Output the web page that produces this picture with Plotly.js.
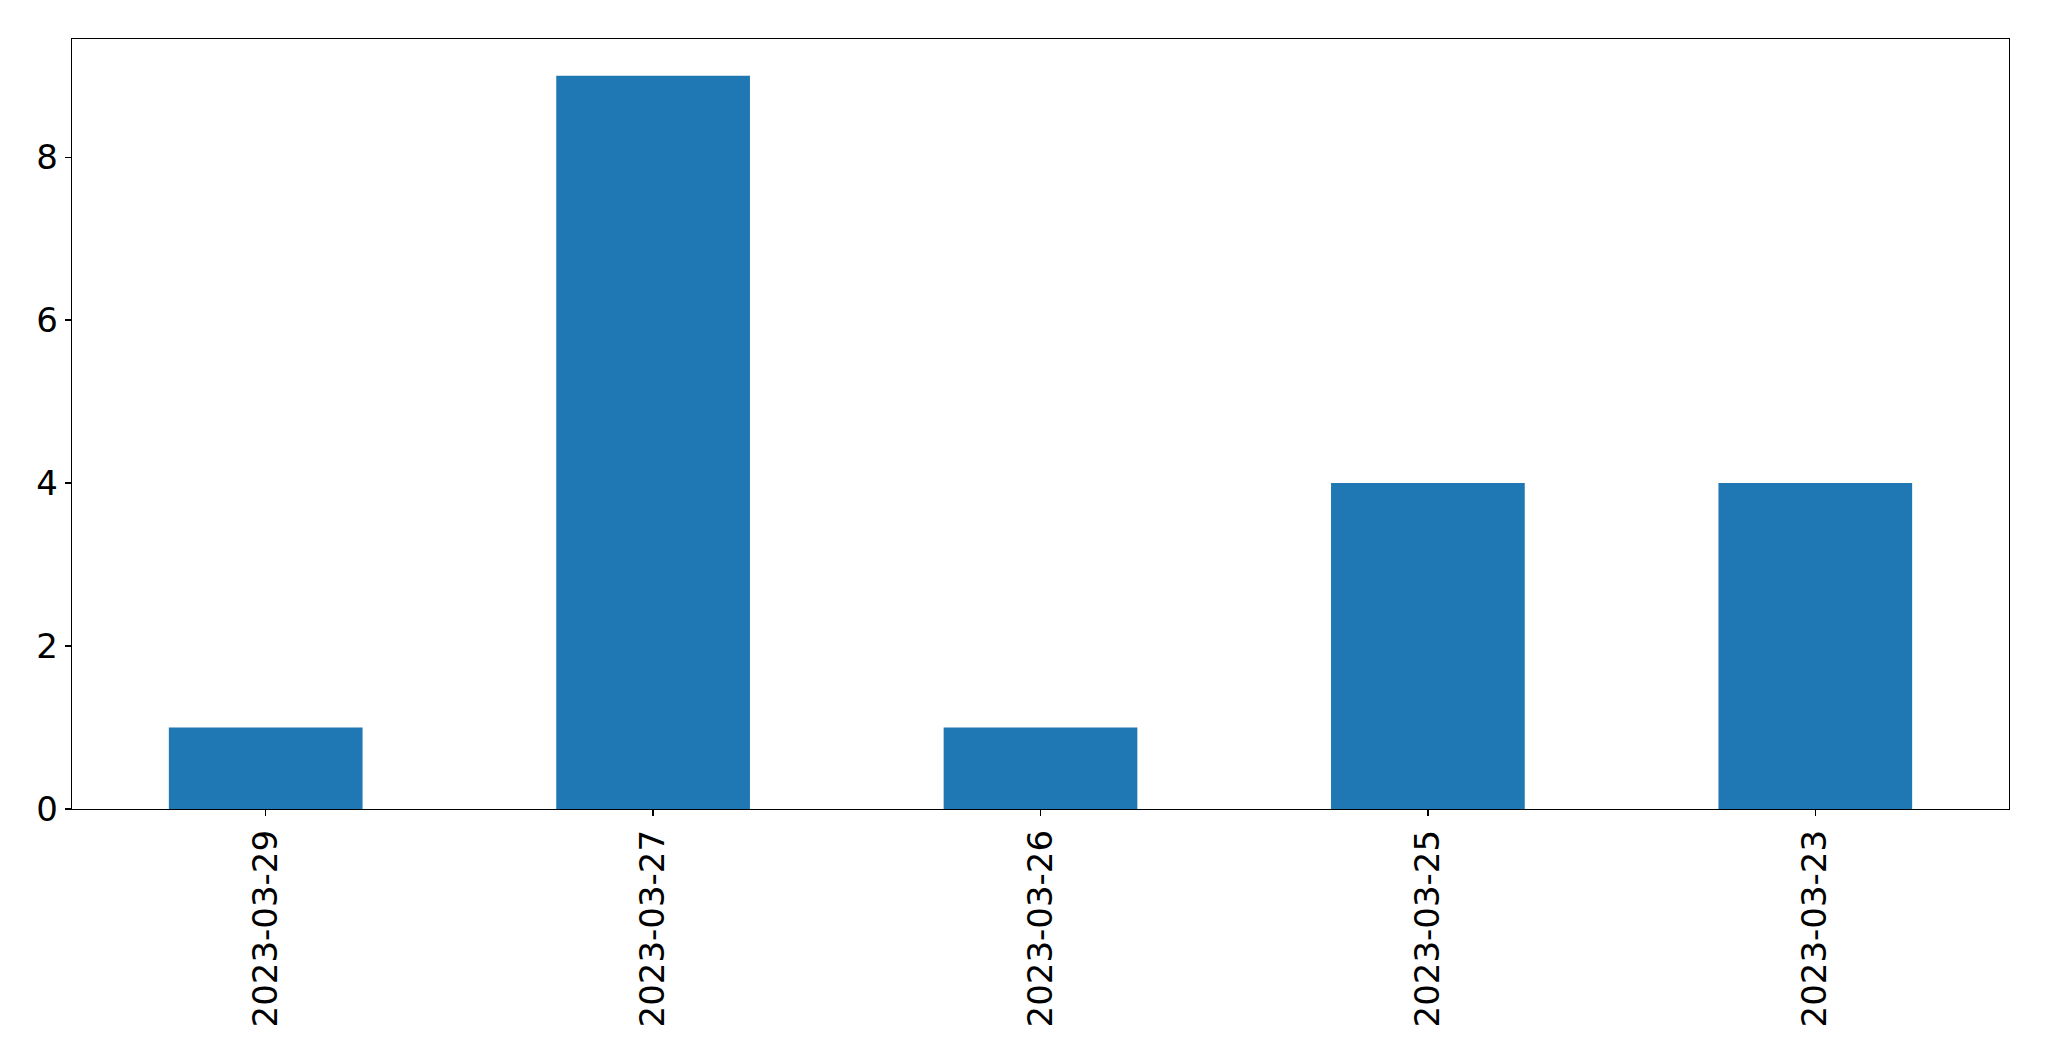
<!DOCTYPE html>
<html>
<head>
<meta charset="utf-8">
<script src="https://cdn.plot.ly/plotly-3.0.1.min.js"></script>
<style>html,body{margin:0;padding:0;background:#fff;}#chart{width:2049px;height:1061px;}</style>
</head>
<body>
<div id="chart"></div>
<script>
const categories = ["2023-03-29", "2023-03-27", "2023-03-26", "2023-03-25", "2023-03-23"];
const values = [1, 9, 1, 4, 4];
const yTicks = [0, 2, 4, 6, 8];

const trace = {
  type: 'bar',
  x: categories,
  y: values,
  marker: {color: '#1f77b4', line: {width: 0}},
  hoverinfo: 'x+y'
};

const font = {family: 'DejaVu Sans', size: 34, color: '#000'};

const layout = {
  width: 2049,
  height: 1061,
  margin: {l: 72, r: 40, t: 39, b: 252, pad: 0},
  paper_bgcolor: '#fff',
  plot_bgcolor: '#fff',
  showlegend: false,
  bargap: 0.5,
  xaxis: {
    type: 'category',
    range: [-0.5, 4.5],
    tickangle: -90,
    tickfont: font,
    ticks: 'outside',
    ticklen: 6,
    tickwidth: 1.3,
    tickcolor: '#000',
    showline: true,
    linecolor: '#000',
    linewidth: 1.3,
    mirror: true,
    showgrid: false,
    zeroline: false
  },
  yaxis: {
    range: [0, 9.45],
    tickvals: yTicks,
    ticktext: yTicks.map(String),
    tickfont: font,
    ticks: 'outside',
    ticklen: 6,
    tickwidth: 1.3,
    tickcolor: '#000',
    showline: true,
    linecolor: '#000',
    linewidth: 1.3,
    mirror: true,
    showgrid: false,
    zeroline: false
  }
};

Plotly.newPlot('chart', [trace], layout, {displayModeBar: false, staticPlot: true});
</script>
</body>
</html>
